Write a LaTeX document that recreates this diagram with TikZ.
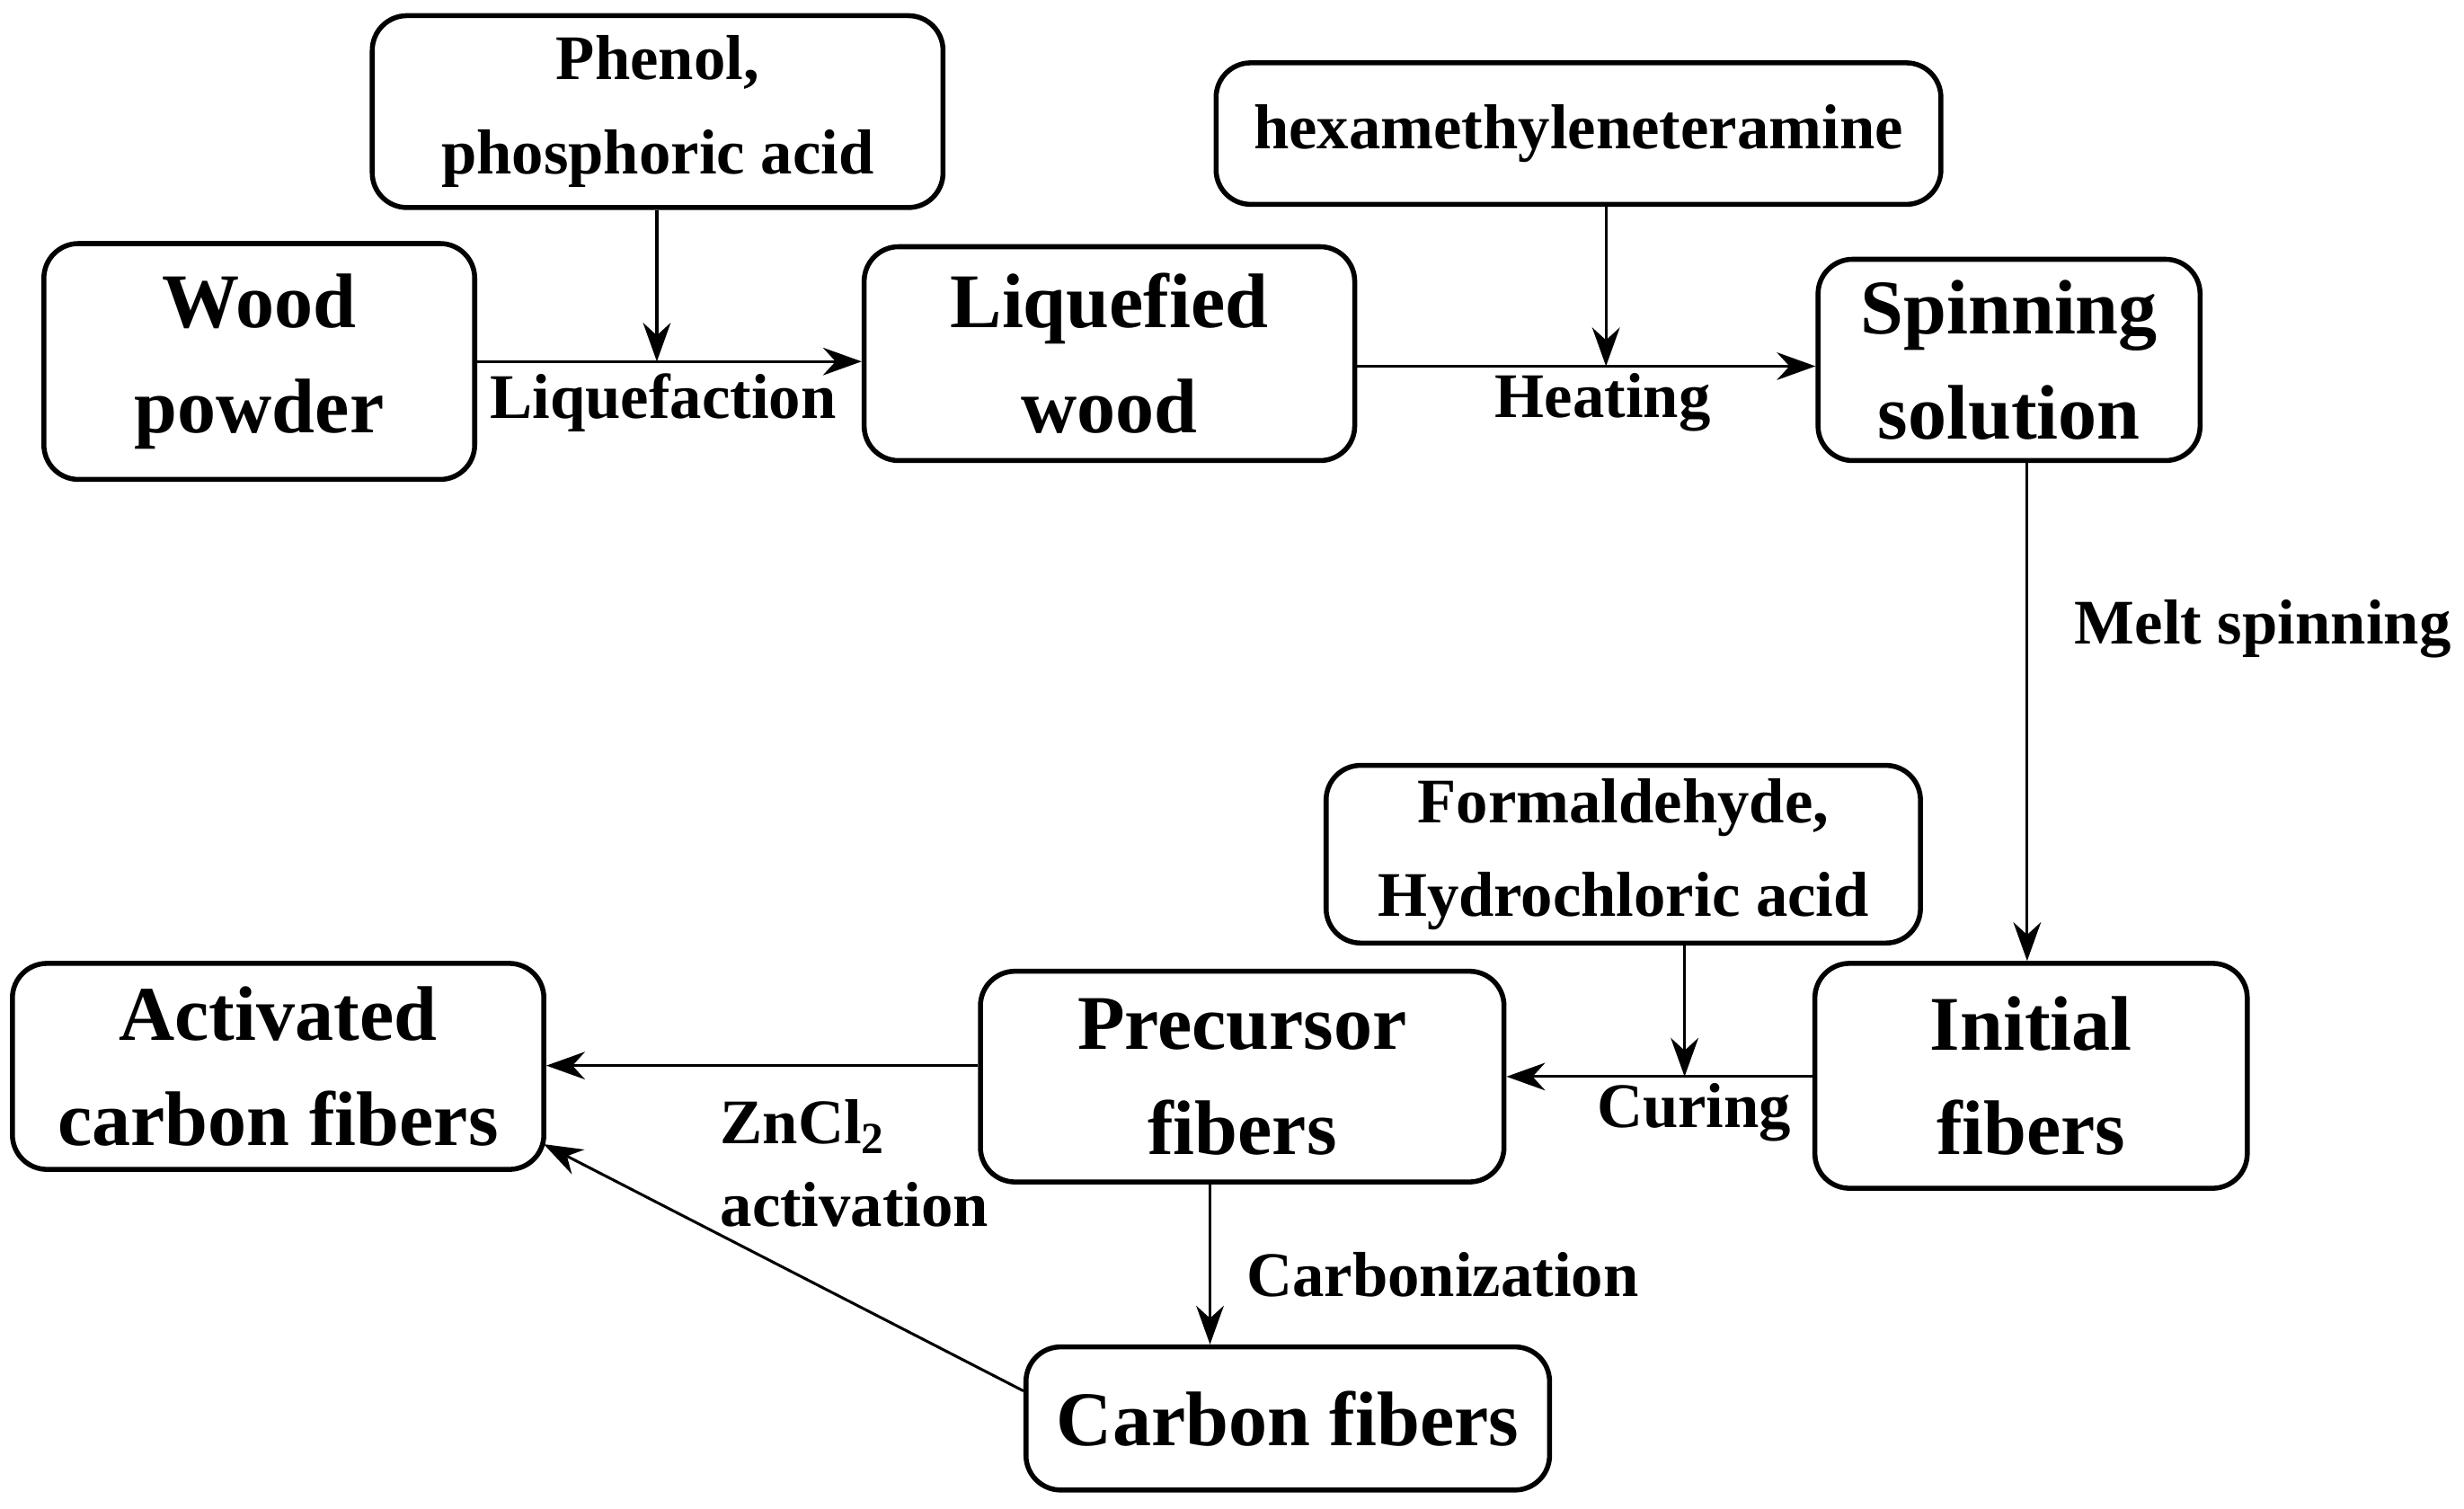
\documentclass[tikz,border=0pt]{standalone}
\usepackage{fontspec}
\setmainfont{Liberation Serif}
\usetikzlibrary{arrows.meta}
\begin{document}
\begin{tikzpicture}[x=0.01cm,y=-0.01cm,
  box/.style={draw,line width=0.9pt,rounded corners=0.22cm,inner sep=0pt,align=center,font=\bfseries\fontsize{14}{19}\selectfont},
  sbox/.style={box,font=\bfseries\fontsize{11.5}{17}\selectfont},
  lab/.style={font=\bfseries\fontsize{11.5}{15}\selectfont},
  arr/.style={-{Stealth[length=7pt,width=5pt]},line width=0.5pt}]
\useasboundingbox (0,0) rectangle (1568,960);
\node[sbox,minimum width=363\pgflinewidth,minimum width=3.63cm,minimum height=1.22cm] (phen) at (418.5,71) {Phenol,\\phosphoric acid};
\node[box,minimum width=2.74cm,minimum height=1.5cm] (wood) at (165,230) {Wood\\powder};
\node[box,minimum width=3.12cm,minimum height=1.36cm] (liq) at (706,225) {Liquefied\\wood};
\node[sbox,minimum width=4.61cm,minimum height=0.9cm] (hexa) at (1004.5,85) {hexamethyleneteramine};
\node[box,minimum width=2.43cm,minimum height=1.28cm] (spin) at (1278.5,229) {Spinning\\solution};
\node[sbox,minimum width=3.78cm,minimum height=1.13cm] (form) at (1033,543.5) {Formaldehyde,\\Hydrochloric acid};
\node[box,minimum width=2.75cm,minimum height=1.43cm] (init) at (1292.5,684.5) {Initial\\fibers};
\node[box,minimum width=3.33cm,minimum height=1.34cm] (prec) at (790.5,685) {Precursor\\fibers};
\node[box,minimum width=3.38cm,minimum height=1.31cm] (act) at (177,678.5) {Activated\\carbon fibers};
\node[box,minimum width=3.33cm,minimum height=0.91cm] (carb) at (819.5,902.5) {Carbon fibers};
\coordinate (j1) at (418,230);
\coordinate (j2) at (1022,233);
\coordinate (j3) at (1072,685);
\draw[arr] (wood.east|-j1) -- (liq.west|-j1);
\draw[arr] (phen.south-|j1) -- (j1);
\node[lab] (l1) at (422,256) {Liquefaction};
\draw[arr] (liq.east|-j2) -- (spin.west|-j2);
\draw[arr] (hexa.south-|j2) -- (j2);
\node[lab] (l2) at (1020,256) {Heating};
\coordinate (s1) at (1290,0);
\draw[arr] (spin.south-|s1) -- (init.north-|s1);
\node[lab] (l3) at (1440,400) {Melt spinning};
\draw[arr] (init.west|-j3) -- (prec.east|-j3);
\draw[arr] (form.south-|j3) -- (j3);
\node[lab] (l4) at (1078,708) {Curing};
\coordinate (p1) at (0,678);
\draw[arr] (prec.west|-p1) -- (act.east|-p1);
\node[lab,align=left,anchor=west] (l5) at (446,740) {ZnCl\textsubscript{2}\\activation};
\coordinate (c1) at (770,0);
\draw[arr] (prec.south-|c1) -- (carb.north-|c1);
\node[lab] (l6) at (918,811) {Carbonization};
\coordinate (a1) at (346,728);
\draw[arr] (carb.west|-0,885) -- (a1);
\end{tikzpicture}
\end{document}
